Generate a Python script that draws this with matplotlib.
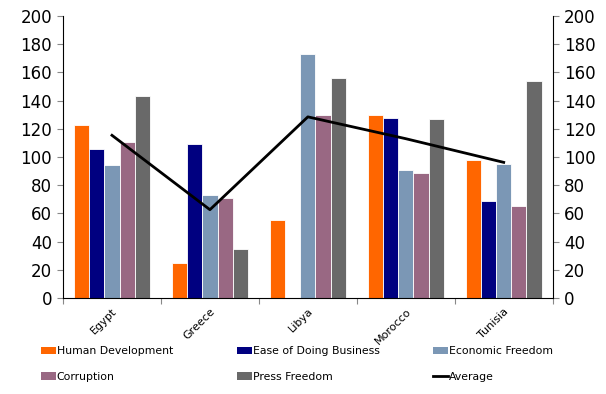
import numpy as np
import matplotlib.pyplot as plt
from matplotlib.lines import Line2D
from matplotlib.patches import Patch

# Index scores per country
countries = ['Egypt', 'Greece', 'Libya', 'Morocco', 'Tunisia']
human_development = [123, 25, 55, 130, 98]
ease_of_business = [106, 109, np.nan, 128, 69]
economic_freedom = [94, 73, 173, 91, 95]
corruption = [111, 71, 130, 89, 65]
press_freedom = [143, 35, 156, 127, 154]

series = [
    ('Human Development', human_development, '#FF6600'),
    ('Ease of Doing Business', ease_of_business, '#000080'),
    ('Economic Freedom', economic_freedom, '#7B97B5'),
    ('Corruption', corruption, '#996883'),
    ('Press Freedom', press_freedom, '#696969'),
]

average = np.nanmean(np.array([s[1] for s in series], dtype=float), axis=0)

plt.rcParams['font.family'] = ['DejaVu Sans']

fig = plt.figure(figsize=(6.06, 3.94), dpi=100)
ax = fig.add_axes([0.104, 0.244, 0.808, 0.715])

x = np.arange(len(countries))
width = 0.155
handles = {}
for i, (name, values, color) in enumerate(series):
    offset = (i - 2) * width
    ax.bar(x + offset, values, width, color=color, edgecolor='white', linewidth=0.6)
    handles[name] = Patch(facecolor=color, edgecolor='none')

ax.plot(x, average, color='black', linewidth=2)
handles['Average'] = Line2D([], [], color='black', linewidth=2)

ax.set_xlim(-0.5, len(countries) - 0.5)
ax.set_ylim(0, 200)
ax.set_yticks(range(0, 201, 20))
ax.tick_params(axis='y', labelsize=12, length=4, color='#888888', pad=4)

# category boundaries carry the tick marks, names sit in between
ax.set_xticks(np.arange(-0.5, len(countries), 1))
ax.set_xticklabels([])
ax.tick_params(axis='x', which='major', length=4, color='#888888', direction='out')
ax.set_xticks(x, minor=True)
ax.set_xticklabels(countries, minor=True, rotation=45, ha='right', rotation_mode='anchor', fontsize=8)
ax.tick_params(axis='x', which='minor', length=0, pad=6)

ax.spines['top'].set_visible(False)
ax.spines['right'].set_visible(False)

ax2 = ax.twinx()
ax2.set_ylim(0, 200)
ax2.set_yticks(range(0, 201, 20))
ax2.tick_params(axis='y', labelsize=12, length=4, color='#888888', pad=4)
ax2.spines['top'].set_visible(False)
ax2.spines['left'].set_visible(False)
ax2.spines['bottom'].set_visible(False)

# legend laid out in three evenly spaced columns
columns = [['Human Development', 'Corruption'],
           ['Ease of Doing Business', 'Press Freedom'],
           ['Economic Freedom', 'Average']]
for col, names in enumerate(columns):
    fig.legend([handles[n] for n in names], names, loc='upper left',
               bbox_to_anchor=((41 + col * 196) / 606, 1 - 346 / 394), frameon=False,
               fontsize=7.8, handlelength=1.4, handleheight=0.65, handletextpad=0.05,
               labelspacing=1.45, borderaxespad=0, borderpad=0)

fig.savefig('out.png', dpi=100)
